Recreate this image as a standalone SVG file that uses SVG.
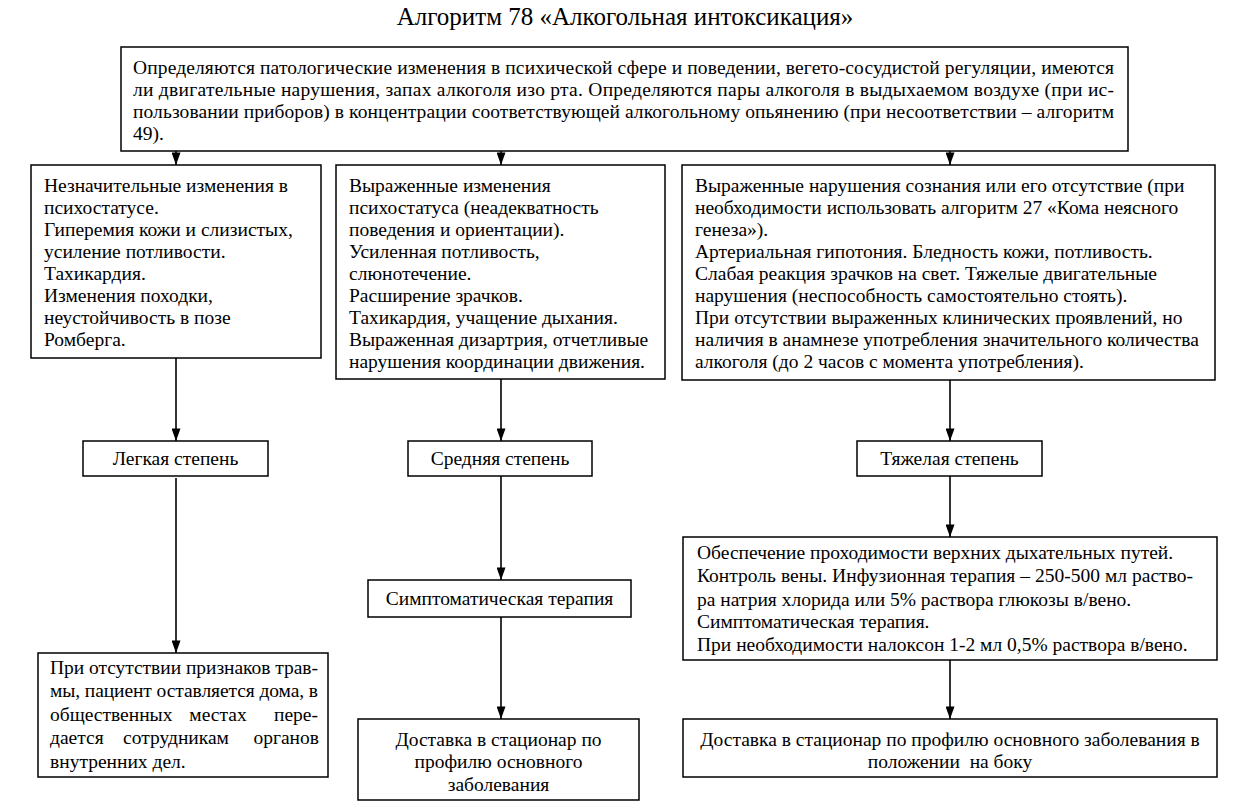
<svg xmlns="http://www.w3.org/2000/svg" width="1245" height="810" viewBox="0 0 1245 810">
<style>
text{font-family:'Liberation Serif','Tinos','Times New Roman','DejaVu Serif',serif;font-size:19.5px;fill:#000}
.t{font-size:25px}
.c{text-anchor:middle}
.e{text-anchor:end}
rect{fill:#fff;stroke:#000;stroke-width:1.5}
.conn line{stroke:#000;stroke-width:1.6}
</style>
<defs>
<marker id="ah" viewBox="0 0 14 10" refX="14" refY="5" markerWidth="14" markerHeight="9" markerUnits="userSpaceOnUse" orient="auto">
<path d="M0,0 L14,5 L0,10 z" fill="#000"/>
</marker>
</defs>
<rect x="0" y="0" width="1245" height="810" style="stroke:none"/>
<text class="t c" x="625" y="25">Алгоритм 78 «Алкогольная интоксикация»</text>

<g class="conn">
<line x1="176" y1="151" x2="176" y2="165" marker-end="url(#ah)"/>
<line x1="501" y1="151" x2="501" y2="165" marker-end="url(#ah)"/>
<line x1="950" y1="151" x2="950" y2="165" marker-end="url(#ah)"/>
<line x1="176" y1="358" x2="176" y2="441" marker-end="url(#ah)"/>
<line x1="501" y1="379" x2="501" y2="441" marker-end="url(#ah)"/>
<line x1="950" y1="380" x2="950" y2="441" marker-end="url(#ah)"/>
<line x1="176" y1="478" x2="176" y2="653" marker-end="url(#ah)"/>
<line x1="501" y1="476" x2="501" y2="580" marker-end="url(#ah)"/>
<line x1="501" y1="617" x2="501" y2="719" marker-end="url(#ah)"/>
<line x1="950" y1="476" x2="950" y2="537" marker-end="url(#ah)"/>
<line x1="950" y1="660" x2="950" y2="719" marker-end="url(#ah)"/>
</g>

<g id="top">
<rect x="121" y="47" width="1007" height="104"/>
<text x="133" y="74" textLength="981" lengthAdjust="spacing">Определяются патологические изменения в психической сфере и поведении, вегето-сосудистой регуляции, имеются</text>
<text x="133" y="96" textLength="981" lengthAdjust="spacing">ли двигательные нарушения, запах алкоголя изо рта. Определяются пары алкоголя в выдыхаемом воздухе (при ис-</text>
<text x="133" y="118" textLength="981" lengthAdjust="spacing">пользовании приборов) в концентрации соответствующей алкогольному опьянению (при несоответствии – алгоритм</text>
<text x="133" y="140">49).</text>
</g>

<g id="mild-signs">
<rect x="31" y="165" width="290" height="193"/>
<text x="44" y="192">Незначительные изменения в</text>
<text x="44" y="214">психостатусе.</text>
<text x="44" y="236">Гиперемия кожи и слизистых,</text>
<text x="44" y="258">усиление потливости.</text>
<text x="44" y="280">Тахикардия.</text>
<text x="44" y="302">Изменения походки,</text>
<text x="44" y="324">неустойчивость в позе</text>
<text x="44" y="346">Ромберга.</text>
</g>

<g id="moderate-signs">
<rect x="336" y="165" width="329" height="214"/>
<text x="349" y="192">Выраженные изменения</text>
<text x="349" y="214">психостатуса (неадекватность</text>
<text x="349" y="236">поведения и ориентации).</text>
<text x="349" y="258">Усиленная потливость,</text>
<text x="349" y="280">слюнотечение.</text>
<text x="349" y="302">Расширение зрачков.</text>
<text x="349" y="324">Тахикардия, учащение дыхания.</text>
<text x="349" y="346">Выраженная дизартрия, отчетливые</text>
<text x="349" y="368">нарушения координации движения.</text>
</g>

<g id="severe-signs">
<rect x="682" y="165" width="533" height="215"/>
<text x="695" y="192">Выраженные нарушения сознания или его отсутствие (при</text>
<text x="695" y="214">необходимости использовать алгоритм 27 «Кома неясного</text>
<text x="695" y="236">генеза»).</text>
<text x="695" y="258">Артериальная гипотония. Бледность кожи, потливость.</text>
<text x="695" y="280">Слабая реакция зрачков на свет. Тяжелые двигательные</text>
<text x="695" y="302">нарушения (неспособность самостоятельно стоять).</text>
<text x="695" y="324">При отсутствии выраженных клинических проявлений, но</text>
<text x="695" y="346">наличия в анамнезе употребления значительного количества</text>
<text x="695" y="368">алкоголя (до 2 часов с момента употребления).</text>
</g>

<g id="mild">
<rect x="83" y="441" width="185" height="35"/>
<text class="c" x="175.5" y="465">Легкая степень</text>
</g>
<g id="moderate">
<rect x="408" y="441" width="184" height="35"/>
<text class="c" x="500" y="465">Средняя степень</text>
</g>
<g id="severe">
<rect x="857" y="441" width="185" height="35"/>
<text class="c" x="949.5" y="465">Тяжелая степень</text>
</g>

<g id="symptomatic">
<rect x="368" y="580" width="263" height="37"/>
<text class="c" x="499.5" y="605">Симптоматическая терапия</text>
</g>

<g id="severe-care">
<rect x="683" y="537" width="534" height="123"/>
<text x="697" y="559">Обеспечение проходимости верхних дыхательных путей.</text>
<text x="697" y="582" textLength="496" lengthAdjust="spacing">Контроль вены. Инфузионная терапия – 250-500 мл раство-</text>
<text x="697" y="606">ра натрия хлорида или 5% раствора глюкозы в/вено.</text>
<text x="697" y="628">Симптоматическая терапия.</text>
<text x="697" y="651">При необходимости налоксон 1-2 мл 0,5% раствора в/вено.</text>
</g>

<g id="mild-outcome">
<rect x="38" y="653" width="290" height="124"/>
<text x="50" y="674" textLength="268" lengthAdjust="spacing">При отсутствии признаков трав-</text>
<text x="50" y="697" textLength="268" lengthAdjust="spacing">мы, пациент оставляется дома, в</text>
<text y="721"><tspan x="50">общественных</tspan><tspan x="218" class="c">местах</tspan><tspan x="318" class="e">пере-</tspan></text>
<text y="744"><tspan x="50">дается</tspan><tspan x="176" class="c">сотрудникам</tspan><tspan x="319" class="e">органов</tspan></text>
<text x="50" y="768">внутренних дел.</text>
</g>

<g id="moderate-outcome">
<rect x="358" y="719" width="281" height="81"/>
<text class="c" x="498.5" y="746">Доставка в стационар по</text>
<text class="c" x="498.5" y="768">профилю основного</text>
<text class="c" x="498.5" y="791">заболевания</text>
</g>

<g id="severe-outcome">
<rect x="683" y="719" width="534" height="58"/>
<text class="c" x="950" y="746">Доставка в стационар по профилю основного заболевания в</text>
<text class="c" x="950" y="768" xml:space="preserve">положении  на боку</text>
</g>
</svg>
